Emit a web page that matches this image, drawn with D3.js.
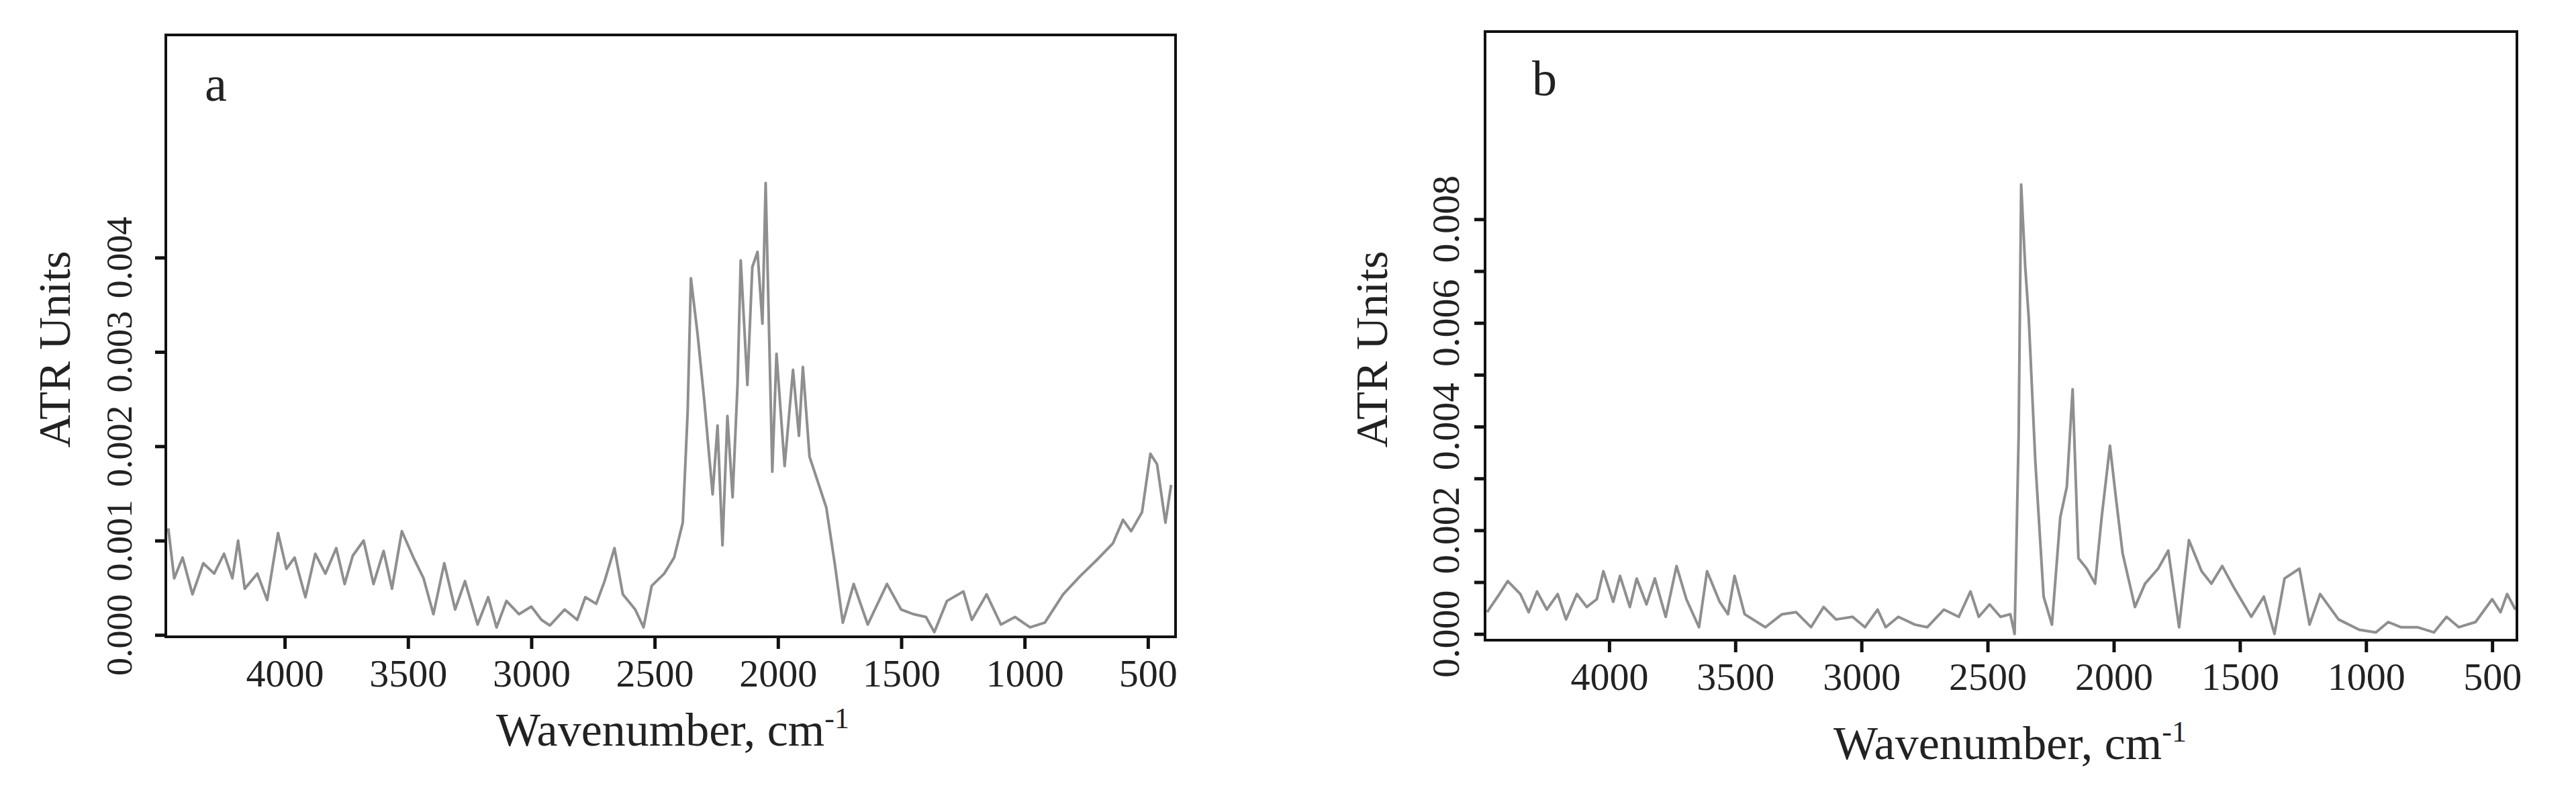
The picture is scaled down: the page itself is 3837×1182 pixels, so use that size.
<!DOCTYPE html>
<html><head><meta charset="utf-8">
<script src="https://cdn.jsdelivr.net/npm/d3@7"></script>
<style>body{margin:0;background:#fff}svg text{font-family:"Liberation Serif","Times New Roman",serif;fill:#222}</style>
</head><body><svg id="c" width="3837" height="1182"></svg>
<script>
const wnA=[4472,4448,4414,4374,4330,4286,4246,4212,4189,4162,4111,4071,4027,3993,3960,3916,3876,3835,3791,3757,3724,3680,3640,3599,3565,3525,3478,3437,3397,3353,3309,3269,3218,3175,3141,3101,3050,3000,2959,2925,2865,2814,2781,2737,2703,2663,2629,2579,2545,2512,2461,2421,2386,2366,2353,2326,2299,2265,2245,2225,2205,2184,2164,2151,2124,2104,2083,2063,2050,2023,2006,1973,1939,1915,1899,1872,1838,1804,1770,1737,1693,1636,1558,1501,1450,1400,1366,1315,1248,1214,1154,1096,1039,978,918,844,776,709,642,601,568,524,490,463,429,406];
const absA=[0.00113,0.0006,0.00082,0.00043,0.00076,0.00065,0.00086,0.0006,0.001,0.00049,0.00065,0.00037,0.00108,0.0007,0.00082,0.0004,0.00086,0.00065,0.00092,0.00054,0.00084,0.001,0.00054,0.00089,0.00049,0.0011,0.00082,0.0006,0.00022,0.00076,0.00027,0.00057,0.00011,0.0004,0.00008,0.00036,0.00022,0.0003,0.00016,0.0001,0.00027,0.00016,0.0004,0.00033,0.00057,0.00092,0.00043,0.00027,0.00008,0.00052,0.00065,0.00082,0.00119,0.00238,0.00378,0.00319,0.00249,0.00149,0.00222,0.00095,0.00232,0.00146,0.00265,0.00397,0.00265,0.0039,0.00406,0.0033,0.00479,0.00173,0.00298,0.00179,0.00281,0.00211,0.00284,0.00189,0.00162,0.00135,0.00076,0.00013,0.00054,0.00011,0.00054,0.00027,0.00022,0.00019,0.00003,0.00036,0.00046,0.00016,0.00043,0.00011,0.00019,0.00008,0.00013,0.00043,0.00062,0.00079,0.00097,0.00122,0.0011,0.0013,0.00192,0.00181,0.00119,0.00159];
const wnB=[4484,4435,4402,4352,4319,4286,4247,4204,4171,4128,4089,4049,4023,3984,3957,3918,3891,3852,3819,3776,3733,3694,3644,3612,3562,3529,3503,3463,3381,3315,3259,3200,3150,3101,3035,2986,2936,2904,2854,2788,2739,2673,2614,2568,2535,2492,2449,2410,2393,2377,2367,2351,2337,2311,2278,2245,2212,2186,2163,2140,2107,2074,2048,2015,1992,1965,1916,1876,1824,1784,1741,1702,1652,1613,1570,1521,1455,1405,1363,1323,1264,1224,1182,1109,1027,961,912,862,797,731,681,632,566,500,467,441,408];
const absB=[0.00042,0.00077,0.00102,0.00077,0.00042,0.00082,0.00047,0.00077,0.00028,0.00077,0.00052,0.00067,0.00121,0.00062,0.00112,0.00052,0.00107,0.00057,0.00107,0.00033,0.00131,0.00067,0.00013,0.00121,0.00062,0.00038,0.00112,0.00038,0.00013,0.00038,0.00042,0.00013,0.00052,0.00028,0.00033,0.00013,0.00047,0.00013,0.00033,0.00018,0.00013,0.00047,0.00033,0.00082,0.00033,0.00057,0.00033,0.00038,0.0,0.00383,0.00867,0.00709,0.0061,0.00334,0.00072,0.00018,0.00225,0.00284,0.00472,0.00146,0.00126,0.00097,0.00225,0.00363,0.00265,0.00156,0.00052,0.00097,0.00126,0.00161,0.00013,0.00181,0.00121,0.00097,0.00131,0.00087,0.00033,0.00072,0.0,0.00107,0.00126,0.00018,0.00077,0.00028,0.00008,0.00003,0.00023,0.00013,0.00013,0.00003,0.00033,0.00013,0.00023,0.00067,0.00042,0.00077,0.00047];
const xTicks=[4000,3500,3000,2500,2000,1500,1000,500];
const yTicksA=[0,0.001,0.002,0.003,0.004];
const yTicksB=[0,0.001,0.002,0.003,0.004,0.005,0.006,0.007,0.008];
const yLabelsB=[0,0.002,0.004,0.006,0.008];

const svg=d3.select("#c");
function panel(o){
  const g=svg.append("g");
  const x=d3.scaleLinear().domain(o.xd).range([o.l,o.r]);
  const y=d3.scaleLinear().domain(o.yd).range([o.b,o.t]);
  const line=d3.line().x(d=>x(d[0])).y(d=>y(d[1]));
  g.append("path").datum(o.wn.map((w,i)=>[w,o.ab[i]])).attr("d",line)
    .attr("fill","none").attr("stroke","#8f8f8f").attr("stroke-width",4).attr("stroke-linejoin","round");
  g.append("rect").attr("x",o.l).attr("y",o.t).attr("width",o.r-o.l).attr("height",o.b-o.t)
    .attr("fill","none").attr("stroke","#111").attr("stroke-width",4);
  const xa=g.append("g").attr("transform",`translate(0,${o.b})`)
    .call(d3.axisBottom(x).tickValues(xTicks).tickSize(18).tickPadding(4).tickFormat(d3.format("d")));
  xa.select(".domain").remove();
  xa.selectAll("line").attr("stroke","#111").attr("stroke-width",5);
  xa.selectAll("text").attr("font-size",58).attr("dy","0.9em").style("font-family","Liberation Serif");
  const ya=g.append("g").attr("transform",`translate(${o.l},0)`)
    .call(d3.axisLeft(y).tickValues(o.yt).tickSize(16).tickFormat(()=>""));
  ya.select(".domain").remove();
  ya.selectAll("line").attr("stroke","#111").attr("stroke-width",5);
  g.selectAll(".yl").data(o.yl).enter().append("text")
    .attr("transform",d=>`translate(${o.ylx},${y(d)}) rotate(-90)`)
    .attr("text-anchor","middle").attr("dy","0.35em").attr("font-size",o.yfs).text(d3.format(".3f"));
  g.append("text").attr("transform",`translate(${o.ytx},${(o.t+o.b)/2+20}) rotate(-90)`)
    .attr("text-anchor","middle").attr("dy","0.35em").attr("font-size",68).text("ATR Units");
  const xt=g.append("text").attr("x",o.xtx).attr("y",o.xty).attr("text-anchor","middle").attr("font-size",70);
  xt.append("tspan").text("Wavenumber, cm");
  xt.append("tspan").attr("dy",-26).attr("font-size",44).text("-1");
  g.append("text").attr("x",o.lx).attr("y",o.ly).attr("font-size",74).text(o.lab);
}
panel({wn:wnA,ab:absA,xd:[4482,388],yd:[-0.00002,0.00636],l:247,r:1751,t:52,b:948,yfs:54,
  yt:yTicksA,yl:yTicksA,ylx:177,ytx:80,xtx:1002,xty:1110,lx:305,ly:150,lab:"a"});
panel({wn:wnB,ab:absB,xd:[4492,402],yd:[-0.00012,0.01162],l:2212,r:3749,t:47,b:953,yfs:58,
  yt:yTicksB,yl:yLabelsB,ylx:2153,ytx:2042,xtx:2994,xty:1130,lx:2282,ly:142,lab:"b"});
</script></body></html>
